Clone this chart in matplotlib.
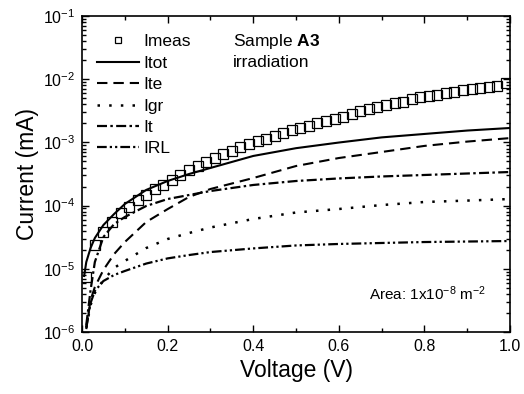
import matplotlib
matplotlib.use("Agg")
import matplotlib.pyplot as plt
from matplotlib.ticker import MultipleLocator, LogLocator, FormatStrFormatter, NullFormatter

plt.rcParams['font.family'] = ['Liberation Sans', 'DejaVu Sans']
plt.rcParams['mathtext.fontset'] = 'custom'
plt.rcParams['mathtext.rm'] = 'Liberation Sans'
plt.rcParams['mathtext.bf'] = 'Liberation Sans:bold'
plt.rcParams['mathtext.it'] = 'Liberation Sans:italic'
plt.rcParams['lines.scale_dashes'] = False

# measured current (mA), squares every 0.02 V
v_meas = [0.01 + 0.02 * k for k in range(50)]
i_meas = [7.4e-6, 2.38e-5, 3.82e-5, 5.5e-5, 7.6e-5, 9.5e-5, 1.23e-4, 1.47e-4, 1.83e-4, 2.12e-4,
          2.54e-4, 3.05e-4, 3.66e-4, 4.23e-4, 4.9e-4, 5.66e-4, 6.55e-4, 7.3e-4, 8.45e-4, 9.4e-4,
          1.05e-3, 1.13e-3, 1.26e-3, 1.41e-3, 1.57e-3, 1.69e-3, 1.82e-3, 2.03e-3, 2.18e-3, 2.34e-3,
          2.52e-3, 2.81e-3, 3.14e-3, 3.38e-3, 3.63e-3, 3.91e-3, 4.2e-3, 4.35e-3, 4.86e-3, 5.23e-3,
          5.42e-3, 5.62e-3, 6.05e-3, 6.27e-3, 6.75e-3, 7.0e-3, 7.26e-3, 7.53e-3, 7.8e-3, 8.7e-3]

# model curves
v_tot = [0.005, 0.01, 0.02, 0.03, 0.05, 0.075, 0.1, 0.15, 0.2, 0.25, 0.3, 0.4, 0.5, 0.6, 0.7, 0.8, 0.9, 1.0]
i_tot = [7.7e-6, 1.28e-5, 2.13e-5, 3.07e-5, 4.93e-5, 7.36e-5, 1.06e-4, 1.77e-4, 2.45e-4, 3.16e-4,
         3.94e-4, 6.1e-4, 8.1e-4, 9.95e-4, 1.2e-3, 1.36e-3, 1.54e-3, 1.69e-3]

v_mod = [0.01, 0.02, 0.03, 0.05, 0.075, 0.1, 0.15, 0.2, 0.25, 0.3, 0.4, 0.5, 0.6, 0.7, 0.8, 0.9, 1.0]
i_te = [1.11e-6, 3.2e-6, 5.15e-6, 9.6e-6, 1.71e-5, 2.65e-5, 5.5e-5, 8.8e-5, 1.37e-4, 1.83e-4,
        2.73e-4, 4.23e-4, 5.66e-4, 7.05e-4, 8.8e-4, 1.03e-3, 1.17e-3]
i_gr = [1.16e-6, 2.67e-6, 4.14e-6, 6.65e-6, 1.03e-5, 1.33e-5, 2.13e-5, 2.96e-5, 3.68e-5, 4.5e-5,
        6.14e-5, 7.78e-5, 8.83e-5, 1.02e-4, 1.14e-4, 1.2e-4, 1.27e-4]
i_t = [1.29e-6, 4.6e-6, 1.28e-5, 3.19e-5, 5.1e-5, 6.6e-5, 9.86e-5, 1.27e-4, 1.47e-4, 1.7e-4,
       2.12e-4, 2.45e-4, 2.69e-4, 2.89e-4, 3.05e-4, 3.22e-4, 3.4e-4]
i_rl = [1.2e-6, 2.88e-6, 4.46e-6, 6.41e-6, 7.98e-6, 9.23e-6, 1.21e-5, 1.46e-5, 1.65e-5, 1.84e-5,
        2.1e-5, 2.34e-5, 2.47e-5, 2.56e-5, 2.65e-5, 2.7e-5, 2.75e-5]

fig = plt.figure(figsize=(5.24, 3.94), dpi=100)
ax = fig.add_axes([0.1565, 0.1574, 0.817, 0.802])

ax.plot(v_meas, i_meas, 's', ms=6.6, mfc='none', mec='black', mew=0.9, label='Imeas')
ax.plot(v_tot, i_tot, '-', color='black', lw=1.5, label='Itot')
ax.plot(v_mod, i_te, color='black', lw=1.5, dashes=(7.5, 4.3), label='Ite')
ax.plot(v_mod, i_gr, color='black', lw=1.8, dashes=(1.8, 6.6), label='Igr')
ax.plot(v_mod, i_t, color='black', lw=1.6, dashes=(7.2, 2.4, 1.8, 2.4), label='It')
ax.plot(v_mod, i_rl, color='black', lw=1.6, dashes=(7, 2.2, 1.6, 2.2, 1.6, 2.2), label='IRL')

ax.set_yscale('log')
ax.set_xlim(0, 1.0)
ax.set_ylim(1e-6, 1e-1)
ax.xaxis.set_major_locator(MultipleLocator(0.2))
ax.xaxis.set_minor_locator(MultipleLocator(0.1))
ax.xaxis.set_major_formatter(FormatStrFormatter('%.1f'))
ax.yaxis.set_major_locator(LogLocator(base=10, numticks=10))
ax.yaxis.set_minor_locator(LogLocator(base=10, subs=range(2, 10), numticks=10))
ax.yaxis.set_minor_formatter(NullFormatter())
ax.tick_params(which='both', direction='in', top=True, right=True, labelsize=11.5, width=1.0)
ax.tick_params(which='major', length=5, pad=5)
ax.tick_params(which='minor', length=3)
for s in ax.spines.values():
    s.set_linewidth(1.2)

ax.set_xlabel('Voltage (V)', fontsize=16.5, labelpad=4)
ax.set_ylabel('Current (mA)', fontsize=16.5, labelpad=3)

ax.legend(loc='upper left', bbox_to_anchor=(0.035, 0.942), frameon=False, fontsize=12.5,
          handlelength=2.4, handletextpad=0.25, labelspacing=0.36, borderpad=0, borderaxespad=0,
          numpoints=1, markerscale=0.75)

ax.text(0.353, 0.905, 'Sample $\\mathbf{A3}$', transform=ax.transAxes, fontsize=12.5)
ax.text(0.353, 0.838, 'irradiation', transform=ax.transAxes, fontsize=12.5)
ax.text(0.67, 0.1, 'Area: 1x10$^{-8}$ m$^{-2}$', transform=ax.transAxes, fontsize=11)

fig.savefig('out.png', dpi=100)
